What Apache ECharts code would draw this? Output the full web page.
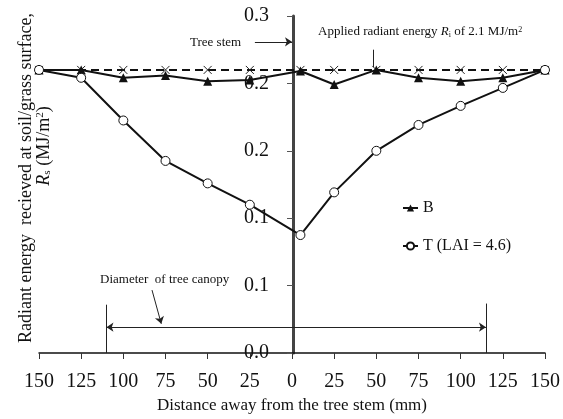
<!DOCTYPE html>
<html>
<head>
  <meta charset="UTF-8">
  <script src="https://cdn.jsdelivr.net/npm/echarts@6/dist/echarts.min.js"></script>
  <style>
    html, body { margin: 0; padding: 0; background: #fff; }
    #main { width: 563px; height: 419px; }
  </style>
</head>
<body>
  <div id="main"></div>
  <script>
    // distance from the stem (mm), left side negative
    var distances = [-150, -125, -100, -75, -50, -25, 5, 25, 50, 75, 100, 125, 150];
    var applied = [0.252, 0.252, 0.252, 0.252, 0.252, 0.252, 0.252, 0.252, 0.252, 0.252, 0.252, 0.252, 0.252];
    var bare = [0.252, 0.252, 0.245, 0.247, 0.242, 0.243, 0.251, 0.239, 0.252, 0.245, 0.242, 0.245, 0.252];
    var tree = [0.252, 0.245, 0.207, 0.171, 0.151, 0.132, 0.105, 0.143, 0.180, 0.203, 0.220, 0.236, 0.252];

    function pairs(ys) {
      return distances.map(function (d, i) { return [d, ys[i]]; });
    }

    var serif = 'Liberation Serif';
    var gridLeft = 39, gridRight = 16;
    var chart = echarts.init(document.getElementById('main'));
    // y axis sits at distance 0, i.e. the middle of the plot
    var stemOffset = (563 - gridLeft - gridRight) / 2;

    chart.setOption({
      animation: false,
      textStyle: { fontFamily: serif, color: '#111' },
      grid: { left: gridLeft, right: gridRight, top: 16, bottom: 62 },
      legend: {
        data: ['B', 'T (LAI = 4.6)'],
        orient: 'vertical',
        left: 397,
        top: 195,
        itemWidth: 15,
        itemHeight: 9,
        itemGap: 22,
        textStyle: { fontFamily: serif, fontSize: 16, color: '#111' }
      },
      xAxis: {
        type: 'value',
        min: -150,
        max: 150,
        interval: 25,
        name: 'Distance away from the tree stem (mm)',
        nameLocation: 'middle',
        nameGap: 44,
        nameTextStyle: { fontFamily: serif, fontSize: 17, color: '#111' },
        axisLine: { lineStyle: { color: '#111', width: 1.5 } },
        axisTick: { length: 6, lineStyle: { color: '#333' } },
        axisLabel: {
          fontFamily: serif, fontSize: 20, color: '#111', margin: 19,
          formatter: function (v) { return Math.abs(v); }
        },
        splitLine: { show: false }
      },
      yAxis: {
        type: 'value',
        min: 0,
        max: 0.3,
        interval: 0.06,
        position: 'left',
        offset: -stemOffset,
        axisLine: { show: true, onZero: false, lineStyle: { color: '#444', width: 3 } },
        axisTick: { show: true, length: 6, lineStyle: { color: '#555', width: 1 } },
        axisLabel: {
          fontFamily: serif, fontSize: 20, color: '#111', margin: 24,
          formatter: function (v) { return v.toFixed(1); }
        },
        splitLine: { show: false }
      },
      series: [
        {
          name: 'Ri',
          type: 'line',
          data: pairs(applied),
          symbol: 'path://M0,0L10,10M10,0L0,10',
          symbolSize: 8,
          itemStyle: { color: 'none', borderColor: '#222', borderWidth: 1 },
          lineStyle: { color: '#111', width: 2, type: [8, 5] },
          z: 3,
          markLine: {
            silent: true,
            animation: false,
            label: { show: false },
            lineStyle: { color: '#222', width: 1, type: 'solid' },
            symbolSize: 7,
            data: [
              // tree stem pointer
              [{ coord: [-22, 0.277], symbol: 'none' }, { coord: [0, 0.277], symbol: 'arrow' }],
              // applied radiant energy pointer
              [{ coord: [48, 0.270], symbol: 'none' }, { coord: [48, 0.2545], symbol: 'none' }],
              // diameter pointer
              [{ coord: [-83, 0.056], symbol: 'none' }, { coord: [-77.5, 0.026], symbol: 'arrow' }],
              // canopy span
              [{ coord: [-110, 0.023], symbol: 'arrow' }, { coord: [115, 0.023], symbol: 'arrow' }],
              [{ coord: [-110, 0.0], symbol: 'none' }, { coord: [-110, 0.043], symbol: 'none' }],
              [{ coord: [115, 0.0], symbol: 'none' }, { coord: [115, 0.044], symbol: 'none' }]
            ]
          }
        },
        {
          name: 'B',
          type: 'line',
          data: pairs(bare),
          symbol: 'triangle',
          symbolSize: 9,
          itemStyle: { color: '#111' },
          lineStyle: { color: '#111', width: 2 },
          z: 4
        },
        {
          name: 'T (LAI = 4.6)',
          type: 'line',
          data: pairs(tree),
          symbol: 'circle',
          symbolSize: 9,
          showAllSymbol: true,
          itemStyle: { color: '#fff', borderColor: '#111', borderWidth: 1 },
          lineStyle: { color: '#111', width: 2 },
          z: 5
        }
      ],
      graphic: [
        {
          type: 'text', x: 26, y: 178, rotation: Math.PI / 2,
          style: {
            text: 'Radiant energy  recieved at soil/grass surface,',
            font: '18px "Liberation Serif"', fill: '#111',
            textAlign: 'center', textVerticalAlign: 'middle'
          }
        },
        {
          type: 'text', x: 44, y: 146, rotation: Math.PI / 2,
          style: {
            text: '{i|R}{sub|s} (MJ/m{sup|2})',
            font: '18px "Liberation Serif"', fill: '#111',
            textAlign: 'center', textVerticalAlign: 'middle',
            rich: {
              i: { fontFamily: serif, fontSize: 18, fontStyle: 'italic', fill: '#111' },
              sub: { fontFamily: serif, fontSize: 11, fill: '#111', verticalAlign: 'bottom', padding: [6, 0, 0, 0] },
              sup: { fontFamily: serif, fontSize: 11, fill: '#111', verticalAlign: 'top', padding: [0, 0, 6, 0] }
            }
          }
        },
        {
          type: 'text', x: 190, y: 43,
          style: {
            text: 'Tree stem', font: '13px "Liberation Serif"', fill: '#111',
            textVerticalAlign: 'middle'
          }
        },
        {
          type: 'text', x: 318, y: 32,
          style: {
            text: 'Applied radiant energy {i|R}{sub|i} of 2.1 MJ/m{sup|2}',
            font: '13px "Liberation Serif"', fill: '#111',
            textVerticalAlign: 'middle',
            rich: {
              i: { fontFamily: serif, fontSize: 13, fontStyle: 'italic', fill: '#111' },
              sub: { fontFamily: serif, fontSize: 8, fill: '#111', verticalAlign: 'bottom', padding: [5, 0, 0, 0] },
              sup: { fontFamily: serif, fontSize: 8, fill: '#111', verticalAlign: 'top', padding: [0, 0, 5, 0] }
            }
          }
        },
        {
          type: 'text', x: 100, y: 280,
          style: {
            text: 'Diameter  of tree canopy', font: '13px "Liberation Serif"', fill: '#111',
            textVerticalAlign: 'middle'
          }
        }
      ]
    });
  </script>
</body>
</html>
